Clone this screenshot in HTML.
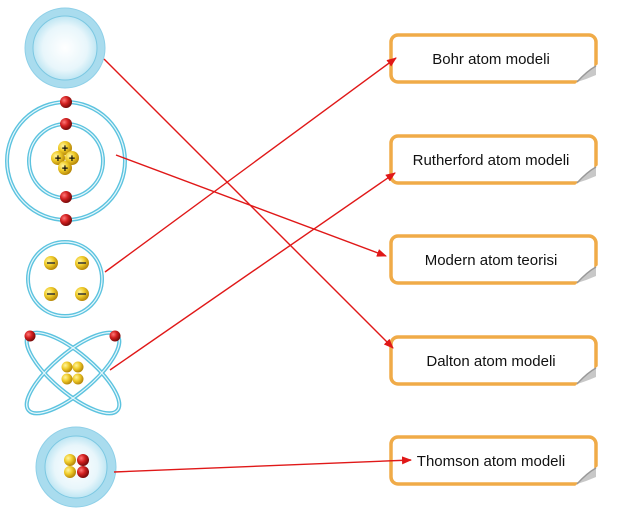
<!DOCTYPE html>
<html><head><meta charset="utf-8"><style>
html,body{margin:0;padding:0;background:#fff;}
svg{display:block;}
text{font-family:"Liberation Sans",sans-serif;font-size:15px;fill:#111;}
</style></head><body>
<svg width="641" height="526" viewBox="0 0 641 526" xmlns="http://www.w3.org/2000/svg">
<defs>
<radialGradient id="cg" cx="50%" cy="50%" r="50%">
<stop offset="0" stop-color="#ffffff"/><stop offset="0.7" stop-color="#e8f6fb"/><stop offset="1" stop-color="#bfe6f3"/>
</radialGradient>
<radialGradient id="yg" cx="35%" cy="35%" r="65%">
<stop offset="0" stop-color="#fff4a0"/><stop offset="0.5" stop-color="#f0cc2a"/><stop offset="1" stop-color="#b98a0a"/>
</radialGradient>
<radialGradient id="rg" cx="35%" cy="35%" r="65%">
<stop offset="0" stop-color="#f77"/><stop offset="0.5" stop-color="#d21f1f"/><stop offset="1" stop-color="#7a0b0b"/>
</radialGradient>
<marker id="ar" markerWidth="10" markerHeight="8" refX="9" refY="4" orient="auto" markerUnits="userSpaceOnUse">
<path d="M0,0 L10,4 L0,8 Z" fill="#e01818"/>
</marker>
<g id="box">
<rect x="0" y="0" width="205" height="47" rx="7" fill="#fff" stroke="#f0ab48" stroke-width="3.5"/>
<path d="M184,49 L207,29 L207,49 Z" fill="#fff"/>
<path d="M186,47 Q196,36 205,31 L205,40 Q196,44 186,47 Z" fill="#c8c8c8"/>
<path d="M186,47 Q196,36 205,31" fill="none" stroke="#999" stroke-width="1.5"/>
</g>
</defs>

<circle cx="65" cy="48" r="40" fill="#a9dcee" stroke="#8fd0e8"/>
<circle cx="65" cy="48" r="32" fill="url(#cg)" stroke="#7cc8e2" stroke-width="1"/>

<g fill="none" stroke="#5cc3df" stroke-width="4">
<circle cx="66" cy="161" r="59"/><circle cx="66" cy="161" r="37"/>
</g>
<g fill="none" stroke="#e6f7fc" stroke-width="1.2">
<circle cx="66" cy="161" r="59"/><circle cx="66" cy="161" r="37"/>
</g>
<g fill="url(#rg)">
<circle cx="66" cy="102" r="6"/><circle cx="66" cy="124" r="6"/><circle cx="66" cy="197" r="6"/><circle cx="66" cy="220" r="6"/>
</g>
<g fill="url(#yg)">
<circle cx="65" cy="148" r="7"/><circle cx="58" cy="158" r="7"/><circle cx="72" cy="158" r="7"/><circle cx="65" cy="168" r="7"/>
</g>
<g text-anchor="middle" font-weight="bold">
<text x="65" y="152" style="font-size:11px">+</text><text x="58" y="162" style="font-size:11px">+</text><text x="72" y="162" style="font-size:11px">+</text><text x="65" y="172" style="font-size:11px">+</text>
</g>

<circle cx="65" cy="279" r="37" fill="#fff" stroke="#5cc3df" stroke-width="4"/>
<circle cx="65" cy="279" r="37" fill="none" stroke="#e6f7fc" stroke-width="1.2"/>
<g fill="url(#yg)">
<circle cx="51" cy="263" r="7"/><circle cx="82" cy="263" r="7"/><circle cx="51" cy="294" r="7"/><circle cx="82" cy="294" r="7"/>
</g>
<g stroke="#333" stroke-width="1.5">
<line x1="47" y1="263" x2="55" y2="263"/><line x1="78" y1="263" x2="86" y2="263"/><line x1="47" y1="294" x2="55" y2="294"/><line x1="78" y1="294" x2="86" y2="294"/>
</g>

<g fill="none" stroke="#5cc3df" stroke-width="4">
<ellipse cx="73" cy="373" rx="58" ry="20" transform="rotate(40 73 373)"/>
<ellipse cx="73" cy="373" rx="58" ry="20" transform="rotate(-40 73 373)"/>
</g>
<g fill="none" stroke="#e6f7fc" stroke-width="1.2">
<ellipse cx="73" cy="373" rx="58" ry="20" transform="rotate(40 73 373)"/>
<ellipse cx="73" cy="373" rx="58" ry="20" transform="rotate(-40 73 373)"/>
</g>
<circle cx="30" cy="336" r="5.5" fill="url(#rg)"/><circle cx="115" cy="336" r="5.5" fill="url(#rg)"/>
<g fill="url(#yg)">
<circle cx="67" cy="367" r="5.5"/><circle cx="78" cy="367" r="5.5"/><circle cx="67" cy="379" r="5.5"/><circle cx="78" cy="379" r="5.5"/>
</g>

<circle cx="76" cy="467" r="40" fill="#a9dcee" stroke="#8fd0e8"/>
<circle cx="76" cy="467" r="31" fill="url(#cg)" stroke="#7cc8e2" stroke-width="1"/>
<circle cx="70" cy="460" r="6" fill="url(#yg)"/><circle cx="70" cy="472" r="6" fill="url(#yg)"/>
<circle cx="83" cy="460" r="6" fill="url(#rg)"/><circle cx="83" cy="472" r="6" fill="url(#rg)"/>

<use href="#box" x="391" y="35"/>
<use href="#box" x="391" y="136"/>
<use href="#box" x="391" y="236"/>
<use href="#box" x="391" y="337"/>
<use href="#box" x="391" y="437"/>
<text x="491" y="64" text-anchor="middle">Bohr atom modeli</text>
<text x="491" y="165" text-anchor="middle">Rutherford atom modeli</text>
<text x="491" y="265" text-anchor="middle">Modern atom teorisi</text>
<text x="491" y="366" text-anchor="middle">Dalton atom modeli</text>
<text x="491" y="466" text-anchor="middle">Thomson atom modeli</text>

<g stroke="#e01818" stroke-width="1.4" fill="none" marker-end="url(#ar)">
<line x1="104" y1="59" x2="393" y2="348"/>
<line x1="116" y1="155" x2="386" y2="256"/>
<line x1="105" y1="272" x2="396" y2="58"/>
<line x1="110" y1="370" x2="395" y2="173"/>
<line x1="114" y1="472" x2="411" y2="460"/>
</g>
</svg>
</body></html>
